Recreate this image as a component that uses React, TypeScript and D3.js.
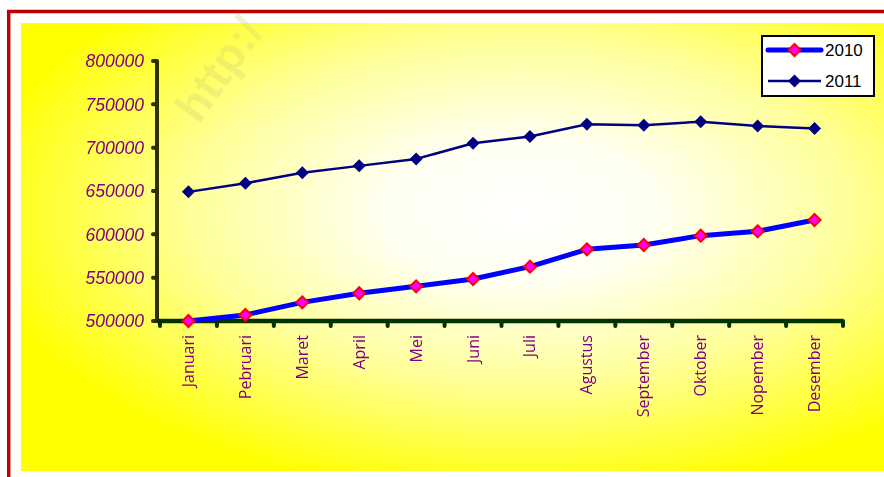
import React from "react";
import * as d3 from "d3";

const months = ["Januari","Pebruari","Maret","April","Mei","Juni","Juli","Agustus","September","Oktober","Nopember","Desember"];
const values2010 = [500000,507000,521500,532000,540000,548500,562700,582700,587700,598500,603500,616500];
const values2011 = [649000,659000,671000,679000,687000,705000,713000,727000,726000,730000,725000,722000];
const yTicks = [500000,550000,600000,650000,700000,750000,800000];

const W = 884, H = 477;
const x0 = 160, x1 = 843, yTop = 61, yBot = 321;

export default function App() {
  const x = d3.scaleBand<string>().domain(months).range([x0, x1]).padding(0);
  const y = d3.scaleLinear().domain([500000, 800000]).range([yBot, yTop]);
  const cx = (m: string) => (x(m) as number) + x.bandwidth() / 2;
  const line = d3.line<number>().x((_, i) => cx(months[i])).y((v) => y(v));
  const diamond = (px: number, py: number, r: number) =>
    `M${px},${py - r}L${px + r},${py}L${px},${py + r}L${px - r},${py}Z`;
  const tickXs = d3.range(months.length + 1).map((i) => x0 + i * x.bandwidth());
  const purple = "#800080";

  return (
    <svg width={W} height={H} style={{ position: "fixed", left: 0, top: 0 }}>
      <defs>
        <radialGradient id="bg" cx="0.58" cy="0.42" r="0.64" fx="0.58" fy="0.42">
          <stop offset="0" stopColor="#ffffff" />
          <stop offset="0.25" stopColor="#fffff2" />
          <stop offset="0.6" stopColor="#ffff99" />
          <stop offset="1" stopColor="#ffff00" />
        </radialGradient>
      </defs>
      <rect x={0} y={0} width={W} height={H} fill="#ffffff" />
      <rect x={8.7} y={11.5} width={W + 20} height={H + 20} fill="#ffffff" stroke="#c00000" strokeWidth={3.5} />
      <rect x={21} y={23} width={W - 21} height={448} fill="url(#bg)" />
      <text x={232} y={78} transform="rotate(-55 232 78)" fontFamily="Liberation Sans, Arial, sans-serif" fontWeight="bold" fontSize={46} fill="#d0d070" opacity={0.3} textAnchor="middle">http:/</text>

      {/* y axis */}
      <line x1={157} x2={157} y1={yTop} y2={yBot} stroke="#2f2f00" strokeWidth={4} />
      {yTicks.map((t) => (
        <g key={t}>
          <line x1={153} x2={157} y1={y(t)} y2={y(t)} stroke="#2f2f00" strokeWidth={4} strokeLinecap="round" />
          <text x={144} y={y(t)} dy="0.36em" textAnchor="end" fontFamily="'Liberation Sans', Arial, sans-serif" fontStyle="italic" fontSize={17.5} fill={purple}>{t}</text>
        </g>
      ))}

      {/* x axis */}
      <line x1={157} x2={x1} y1={yBot} y2={yBot} stroke="#003300" strokeWidth={4.5} />
      {tickXs.map((tx, i) => (
        <line key={i} x1={tx} x2={tx} y1={yBot} y2={yBot + 5} stroke="#003300" strokeWidth={4} strokeLinecap="round" />
      ))}
      {months.map((m) => (
        <text key={m} transform={`translate(${cx(m) + 5.5},${335}) rotate(-90)`} textAnchor="end" fontFamily="'Open Sans', sans-serif" fontSize={16} fill={purple}>{m}</text>
      ))}

      {/* 2011 */}
      <path d={line(values2011) as string} fill="none" stroke="#000080" strokeWidth={2.5} />
      {values2011.map((v, i) => (
        <path key={i} d={diamond(cx(months[i]), y(v), 6.5)} fill="#000080" />
      ))}

      {/* 2010 */}
      <path d={line(values2010) as string} fill="none" stroke="#0000ff" strokeWidth={5} strokeLinejoin="round" />
      {values2010.map((v, i) => (
        <path key={i} d={diamond(cx(months[i]), y(v), 6)} fill="#ff00ff" stroke="#ff0000" strokeWidth={2} />
      ))}

      {/* legend */}
      <rect x={762} y={36} width={112} height={60} fill="#ffffff" stroke="#000000" strokeWidth={2} />
      <line x1={768} x2={821} y1={50} y2={50} stroke="#0000ff" strokeWidth={5} strokeLinecap="round" />
      <path d={diamond(794.5, 50, 6)} fill="#ff00ff" stroke="#ff0000" strokeWidth={2} />
      <text x={825} y={50} dy="0.36em" fontFamily="'Liberation Sans', Arial, sans-serif" fontSize={17} fill="#000">2010</text>
      <line x1={768} x2={821} y1={81} y2={81} stroke="#000080" strokeWidth={2.5} />
      <path d={diamond(794.5, 81, 6.5)} fill="#000080" />
      <text x={825} y={81} dy="0.36em" fontFamily="'Liberation Sans', Arial, sans-serif" fontSize={17} fill="#000">2011</text>
    </svg>
  );
}
